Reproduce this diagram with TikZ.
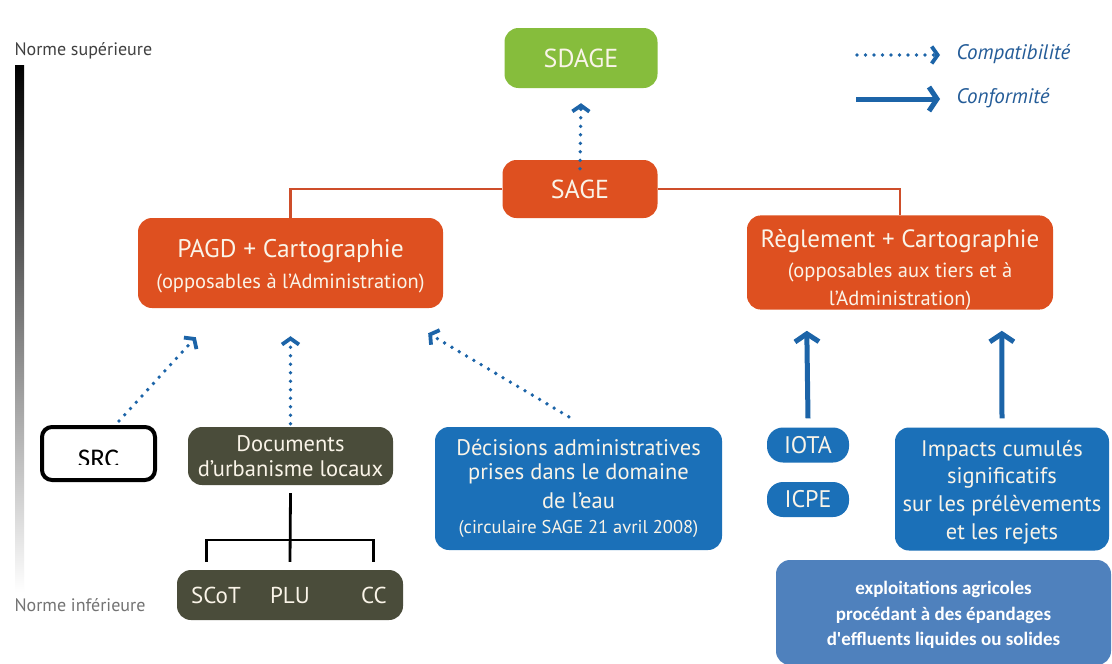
\documentclass[tikz,border=0pt]{standalone}
\usepackage{fontspec}
\setmainfont{PT Sans}
\newfontfamily\calfont{Carlito}
\usetikzlibrary{arrows.meta,positioning,calc}
\definecolor{sdagegreen}{RGB}{134,189,60}
\definecolor{sageorange}{RGB}{222,80,32}
\definecolor{linkorange}{RGB}{206,78,42}
\definecolor{docolive}{RGB}{74,76,58}
\definecolor{waterblue}{RGB}{27,112,184}
\definecolor{arrowblue}{RGB}{28,100,168}
\definecolor{agriblue}{RGB}{79,129,189}
\definecolor{lighttxt}{RGB}{250,244,232}
\definecolor{legendblue}{RGB}{36,92,152}

\newcommand\fs[1]{\fontsize{#1}{#1}\selectfont}

\tikzset{
  box/.style={rounded corners=14pt, inner sep=0pt, align=center, text=lighttxt},
  greenbox/.style={box, fill=sdagegreen},
  orangebox/.style={box, fill=sageorange},
  olivebox/.style={box, fill=docolive},
  bluebox/.style={box, fill=waterblue},
  compat/.style={draw=arrowblue, line width=3.8pt, line cap=round,
    dash pattern=on 0pt off 8.5pt, -{Straight Barb[length=6pt,width=17pt]}},
  conform/.style={draw=arrowblue, line width=5pt,
    -{Straight Barb[length=8pt,width=24pt]}},
  link/.style={draw=linkorange, line width=2.6pt},
  treeline/.style={draw=black, line width=2.8pt},
  norme/.style={anchor=west, font=\fs{18}}
}

\begin{document}
\begin{tikzpicture}[x=1pt, y=-1pt]
  \useasboundingbox[fill=white] (0,0) rectangle (1112,664);

  % Echelle des normes
  \shade[top color=black, bottom color=white] (15,65) rectangle (24,592);
  \node[norme, text=black!75] (sup) at (11,51) {Norme supérieure};
  \node[norme, text=black!55] (inf) at (11,605) {Norme inférieure};

  % Niveau SDAGE / SAGE
  \node[greenbox, minimum width=153pt, minimum height=60pt, font=\fs{26}] (sdage) at (581,58) {SDAGE};
  \node[orangebox, minimum width=155pt, minimum height=58pt, font=\fs{26}] (sage) at (580,189) {SAGE};

  \node[orangebox, minimum width=305pt, minimum height=90pt] (pagd) at (290.5,263)
    {\rule{0pt}{25pt}\fs{25.5}PAGD + Cartographie\\[10pt] \fs{20.5}(opposables à l’Administration)};
  \node[orangebox, minimum width=306pt, minimum height=89pt] (regl) at (900,262.5)
    {\rule{0pt}{32pt}\fs{25}Règlement + Cartographie\\[9pt] \fs{20.5}(opposables aux tiers et à\\[7.5pt] \fs{20.5}l'Administration)};

  \draw[link] (sage.west) -| (pagd.north);
  \draw[link] (sage.east) -| (regl.north);
  \draw[compat] ([yshift=-9pt]sage.north) -- ([yshift=-15pt]sdage.south);

  % Legende
  \coordinate (cpA) at (857,55);
  \coordinate (cpB) at (940,55);
  \coordinate (cfA) at (856,99);
  \coordinate (cfB) at (940,99);
  \draw[compat] (cpA) -- (cpB);
  \draw[conform] (cfA) -- (cfB);
  \node[anchor=west, text=legendblue, font=\fs{21}\itshape] (cptxt) at (953,54) {Compatibilité};
  \node[anchor=west, text=legendblue, font=\fs{21}\itshape] (cftxt) at (953,98) {Conformité};

  % Documents soumis au PAGD
  \node[draw=black, line width=4pt, fill=white, rounded corners=10pt, minimum width=113pt, minimum height=53pt] (src) at (98.5,453.5) {};
  \begin{scope}
    \clip ([yshift=-2pt]src.north west) rectangle ([yshift=18pt]src.south east);
    \node[anchor=base, inner sep=0pt, font=\calfont\fs{27}] (srctxt) at (98.5,467) {SRC};
  \end{scope}
  \node[olivebox, minimum width=205pt, minimum height=58pt] (docs) at (290.5,456)
    {\fs{22.5}Documents\\[8pt] \fs{22.5}d’urbanisme locaux};
  \node[olivebox, minimum width=226pt, minimum height=50pt] (sccc) at (290,595) {};
  \node[text=lighttxt, font=\fs{23}] (scot) at (216,595) {SCoT};
  \node[text=lighttxt, font=\fs{23}] (plu) at (290,595) {PLU};
  \node[text=lighttxt, font=\fs{23}] (cc) at (374,595) {CC};
  \coordinate (fork) at (290,540);
  \draw[treeline] ([yshift=-8pt]docs.south) -- ([yshift=8pt]sccc.north);
  \draw[treeline] ([xshift=30pt,yshift=8pt]sccc.north west) |- (fork) -| ([xshift=-30pt,yshift=8pt]sccc.north east);

  \node[bluebox, minimum width=287pt, minimum height=123pt] (decis) at (578.5,488.5)
    {\fs{22.5}Décisions administratives\\[7pt] \fs{22.5}prises dans le domaine\\[7pt] \fs{22.5}de l'eau\\[11pt] \fs{18.5}(circulaire SAGE 21 avril 2008)};

  \draw[compat] ([xshift=-38pt,yshift=4pt]src.north east) -- ([xshift=58pt,yshift=-29pt]pagd.south west);
  \draw[compat] ([yshift=3pt]docs.north) -- ([yshift=-28pt]pagd.south);
  \draw[compat] ([xshift=134pt,yshift=10pt]decis.north west) -- ([xshift=-15pt,yshift=-25pt]pagd.south east);

  % Documents soumis au reglement
  \node[bluebox, rounded corners=16pt, minimum width=82pt, minimum height=35pt, font=\fs{24}] (iota) at (808,445) {IOTA};
  \node[bluebox, rounded corners=16pt, minimum width=82pt, minimum height=35pt, font=\fs{24}] (icpe) at (808,499.5) {ICPE};
  \node[bluebox, minimum width=214pt, minimum height=123pt] (impacts) at (1002,489)
    {\rule{0pt}{22pt}\fs{22.5}Impacts cumulés\\[6pt] \fs{22.5}significatifs\\[6pt] \fs{22.5}sur les prélèvements\\[6pt] \fs{22.5}et les rejets};
  \node[box, fill=agriblue, text=white, minimum width=335pt, minimum height=105pt] (agri) at (943.5,612.5)
    {\rule{0pt}{18pt}\calfont\bfseries\fs{19}exploitations agricoles\\[8pt] \calfont\bfseries\fs{19}procédant à des épandages\\[8pt] \calfont\bfseries\fs{19}d'effluents liquides ou solides};

  \draw[conform] ([yshift=9pt]iota.north) -- ([xshift=60pt,yshift=-21pt]regl.south west);
  \draw[conform] ([yshift=9pt]impacts.north) -- ([xshift=255pt,yshift=-21pt]regl.south west);
\end{tikzpicture}
\end{document}
